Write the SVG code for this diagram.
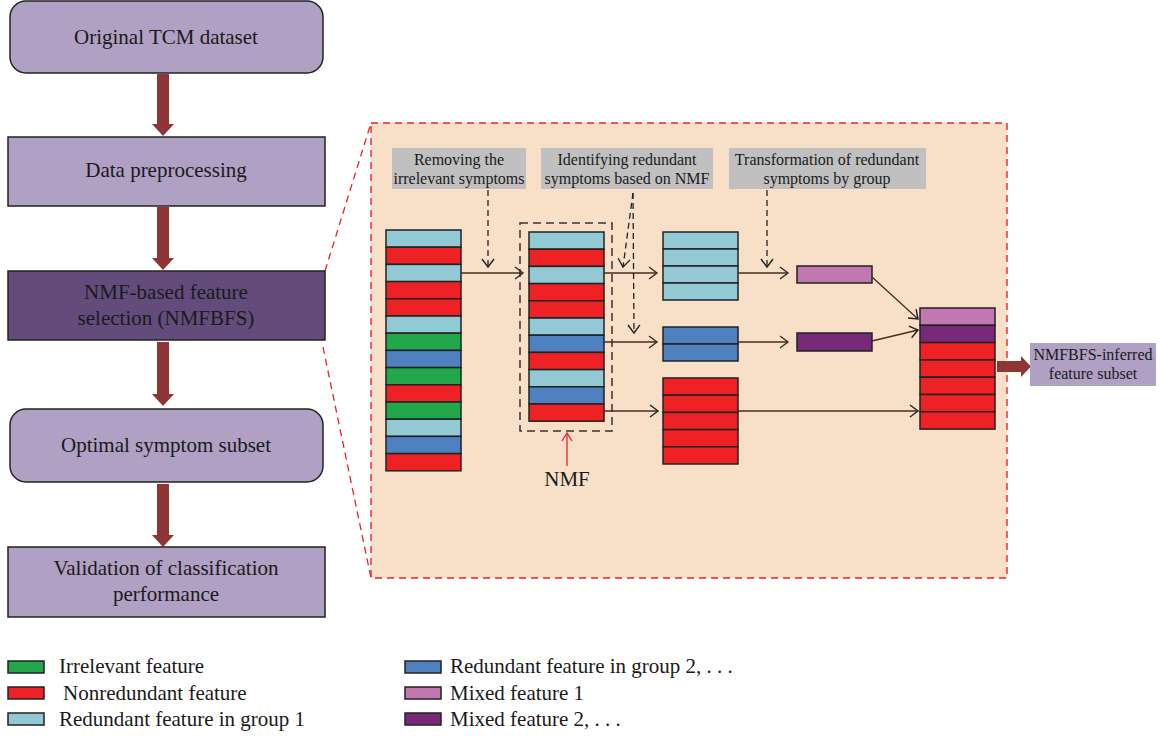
<svg xmlns="http://www.w3.org/2000/svg" width="1160" height="736" viewBox="0 0 1160 736">
<style>
.flow{fill:#afa0c4;stroke:#222;stroke-width:1.5}
.flowdark{fill:#634c7c;stroke:#222;stroke-width:1.5}
.ft{font-family:"Liberation Serif",serif;font-size:21px;fill:#1a1a1a;text-anchor:middle}
.lbl{fill:#c0c0c0}
.lt{font-family:"Liberation Serif",serif;font-size:16px;fill:#1a1a1a;text-anchor:middle}
.leg{font-family:"Liberation Serif",serif;font-size:21px;fill:#1a1a1a}
.c{stroke:#222;stroke-width:1.5}
.lb{fill:#92c9d5}.rd{fill:#ee2224}.gr{fill:#22a84a}.bl{fill:#4f81c0}.pk{fill:#c177b0}.pp{fill:#772a78}
.thin{fill:none;stroke:#4a2a22;stroke-width:1.3}
.dash{fill:none;stroke:#222;stroke-width:1.3;stroke-dasharray:6,4}
.big{fill:#903535}
</style>
<defs>
<marker id="chev" markerUnits="userSpaceOnUse" markerWidth="12" markerHeight="16" viewBox="-10 -8 12 16" refX="0" refY="0" orient="auto">
<path d="M-8,-6 L0,0 L-8,6" fill="none" stroke="#3a2a22" stroke-width="1.4"/>
</marker>
<marker id="chevk" markerUnits="userSpaceOnUse" markerWidth="12" markerHeight="16" viewBox="-10 -8 12 16" refX="0" refY="0" orient="auto">
<path d="M-8,-6 L0,0 L-8,6" fill="none" stroke="#222" stroke-width="1.4"/>
</marker>
</defs>
<rect width="1160" height="736" fill="#fff"/>

<!-- zoom region -->
<g id="zoom-region">
<rect x="371" y="123" width="636" height="455" fill="#f8dfc8" stroke="#e8232a" stroke-width="1.4" stroke-dasharray="7,5"/>
<line x1="325" y1="271" x2="371" y2="123" stroke="#e8232a" stroke-width="1.3" stroke-dasharray="7,5"/>
<line x1="323" y1="347" x2="371" y2="578" stroke="#e8232a" stroke-width="1.3" stroke-dasharray="7,5"/>
</g>

<!-- flow connectors -->
<g id="flow-connectors">
<path class="big" d="M157,74 H169 V124 H174 L163,136 L152,124 H157 Z"/>
<path class="big" d="M157,207 H169 V258 H174 L163,270 L152,258 H157 Z"/>
<path class="big" d="M157,342 H169 V394 H174 L163,406 L152,394 H157 Z"/>
<path class="big" d="M157,484 H169 V535 H174 L163,547 L152,535 H157 Z"/>
<path class="big" d="M997,361 H1021 V356 L1031,366.5 L1021,377 V372 H997 Z"/>
</g>

<g id="n-original">
<rect class="flow" x="10" y="1" width="313" height="72" rx="16"/>
<text class="ft" x="166" y="44">Original TCM dataset</text>
</g>
<g id="n-preprocess">
<rect class="flow" x="8" y="137" width="317" height="69"/>
<text class="ft" x="166" y="177">Data preprocessing</text>
</g>
<g id="n-nmfbfs">
<rect class="flowdark" x="8" y="271" width="317" height="69"/>
<text class="ft" x="166" y="299">NMF-based feature</text>
<text class="ft" x="166" y="325">selection (NMFBFS)</text>
</g>
<g id="n-optimal">
<rect class="flow" x="10" y="409" width="313" height="73" rx="16"/>
<text class="ft" x="166" y="452">Optimal symptom subset</text>
</g>
<g id="n-validation">
<rect class="flow" x="8" y="547" width="317" height="70"/>
<text class="ft" x="166" y="575">Validation of classification</text>
<text class="ft" x="166" y="601">performance</text>
</g>

<!-- step labels -->
<g id="l-removing">
<rect class="lbl" x="392" y="148" width="134" height="41"/>
<text class="lt" x="459" y="165">Removing the</text>
<text class="lt" x="459" y="184">irrelevant symptoms</text>
</g>
<g id="l-identifying">
<rect class="lbl" x="541" y="148" width="172" height="41"/>
<text class="lt" x="627" y="165">Identifying redundant</text>
<text class="lt" x="627" y="184">symptoms based on NMF</text>
</g>
<g id="l-transform">
<rect class="lbl" x="729" y="148" width="197" height="41"/>
<text class="lt" x="827" y="165">Transformation of redundant</text>
<text class="lt" x="827" y="184">symptoms by group</text>
</g>

<!-- stacks -->
<g id="s-original">
<rect class="lb c" x="386" y="230" width="75" height="17.2"/>
<rect class="rd c" x="386" y="247.2" width="75" height="17.2"/>
<rect class="lb c" x="386" y="264.4" width="75" height="17.2"/>
<rect class="rd c" x="386" y="281.6" width="75" height="17.2"/>
<rect class="rd c" x="386" y="298.8" width="75" height="17.2"/>
<rect class="lb c" x="386" y="316" width="75" height="17.2"/>
<rect class="gr c" x="386" y="333.2" width="75" height="17.2"/>
<rect class="bl c" x="386" y="350.4" width="75" height="17.2"/>
<rect class="gr c" x="386" y="367.6" width="75" height="17.2"/>
<rect class="rd c" x="386" y="384.8" width="75" height="17.2"/>
<rect class="gr c" x="386" y="402" width="75" height="17.2"/>
<rect class="lb c" x="386" y="419.2" width="75" height="17.2"/>
<rect class="bl c" x="386" y="436.4" width="75" height="17.2"/>
<rect class="rd c" x="386" y="453.6" width="75" height="17.2"/>
</g>
<g id="s-filtered">
<rect x="520" y="223" width="92" height="208" fill="none" stroke="#333" stroke-width="1.5" stroke-dasharray="8,5"/>
<rect class="lb c" x="529" y="232" width="75" height="17.2"/>
<rect class="rd c" x="529" y="249.2" width="75" height="17.2"/>
<rect class="lb c" x="529" y="266.4" width="75" height="17.2"/>
<rect class="rd c" x="529" y="283.6" width="75" height="17.2"/>
<rect class="rd c" x="529" y="300.8" width="75" height="17.2"/>
<rect class="lb c" x="529" y="318" width="75" height="17.2"/>
<rect class="bl c" x="529" y="335.2" width="75" height="17.2"/>
<rect class="rd c" x="529" y="352.4" width="75" height="17.2"/>
<rect class="lb c" x="529" y="369.6" width="75" height="17.2"/>
<rect class="bl c" x="529" y="386.8" width="75" height="17.2"/>
<rect class="rd c" x="529" y="404" width="75" height="17.2"/>
</g>
<g id="nmf-label">
<line x1="567" y1="466" x2="567" y2="434" stroke="#e8232a" stroke-width="1.3"/>
<path d="M562,441 L567,433 L572,441" fill="none" stroke="#e8232a" stroke-width="1.3"/>
<text x="567" y="486" font-family="Liberation Serif,serif" font-size="21" fill="#1a1a1a" text-anchor="middle">NMF</text>
</g>
<g id="s-group1">
<rect class="lb c" x="663" y="232" width="75" height="17"/>
<rect class="lb c" x="663" y="249" width="75" height="17"/>
<rect class="lb c" x="663" y="266" width="75" height="17"/>
<rect class="lb c" x="663" y="283" width="75" height="17"/>
</g>
<g id="s-group2">
<rect class="bl c" x="663" y="327" width="75" height="17"/>
<rect class="bl c" x="663" y="344" width="75" height="17"/>
</g>
<g id="s-nonredundant">
<rect class="rd c" x="663" y="378" width="75" height="17.2"/>
<rect class="rd c" x="663" y="395.2" width="75" height="17.2"/>
<rect class="rd c" x="663" y="412.4" width="75" height="17.2"/>
<rect class="rd c" x="663" y="429.6" width="75" height="17.2"/>
<rect class="rd c" x="663" y="446.8" width="75" height="17.2"/>
</g>
<g id="s-mixed1">
<rect class="pk c" x="797" y="266" width="75" height="17"/>
</g>
<g id="s-mixed2">
<rect class="pp c" x="797" y="333" width="75" height="18"/>
</g>
<g id="s-final">
<rect class="pk c" x="920" y="308" width="75" height="17.3"/>
<rect class="pp c" x="920" y="325.3" width="75" height="17.3"/>
<rect class="rd c" x="920" y="342.6" width="75" height="17.3"/>
<rect class="rd c" x="920" y="359.9" width="75" height="17.3"/>
<rect class="rd c" x="920" y="377.2" width="75" height="17.3"/>
<rect class="rd c" x="920" y="394.5" width="75" height="17.3"/>
<rect class="rd c" x="920" y="411.8" width="75" height="17.3"/>
</g>
<g id="n-output">
<rect x="1030" y="343" width="126" height="43" fill="#afa0c4"/>
<text class="lt" x="1093" y="360">NMFBFS-inferred</text>
<text class="lt" x="1093" y="379">feature subset</text>
</g>

<!-- connectors -->
<g id="connectors">
<line class="thin" x1="461" y1="273" x2="523" y2="273" marker-end="url(#chev)"/>
<line class="thin" x1="604" y1="273" x2="657" y2="273" marker-end="url(#chev)"/>
<line class="thin" x1="604" y1="342" x2="657" y2="342" marker-end="url(#chev)"/>
<line class="thin" x1="604" y1="411" x2="658" y2="411" marker-end="url(#chevk)"/>
<line class="thin" x1="738" y1="273" x2="788" y2="273" marker-end="url(#chev)"/>
<line class="thin" x1="738" y1="342" x2="788" y2="342" marker-end="url(#chev)"/>
<line class="thin" x1="738" y1="411" x2="918" y2="411" marker-end="url(#chevk)"/>
<line class="thin" stroke="#222" x1="872" y1="277" x2="918" y2="319" marker-end="url(#chevk)"/>
<line class="thin" stroke="#222" x1="872" y1="341" x2="918" y2="330" marker-end="url(#chevk)"/>
<line class="dash" x1="488" y1="190" x2="488" y2="267" marker-end="url(#chevk)"/>
<line class="dash" x1="633" y1="193" x2="623" y2="267" marker-end="url(#chevk)"/>
<line class="dash" x1="633" y1="193" x2="634" y2="333" marker-end="url(#chevk)"/>
<line class="dash" x1="767" y1="190" x2="767" y2="267" marker-end="url(#chevk)"/>
</g>

<!-- legend -->
<g id="legend">
<rect class="gr c" x="8" y="661" width="36" height="12"/>
<text class="leg" x="59" y="673">Irrelevant feature</text>
<rect class="rd c" x="8" y="687" width="36" height="12"/>
<text class="leg" x="63" y="700">Nonredundant feature</text>
<rect class="lb c" x="8" y="713" width="36" height="12"/>
<text class="leg" x="59" y="726">Redundant feature in group 1</text>
<rect class="bl c" x="405" y="661" width="36" height="12"/>
<text class="leg" x="450" y="673">Redundant feature in group 2, . . .</text>
<rect class="pk c" x="405" y="687" width="36" height="12"/>
<text class="leg" x="450" y="700">Mixed feature 1</text>
<rect class="pp c" x="405" y="713" width="36" height="12"/>
<text class="leg" x="450" y="726">Mixed feature 2, . . .</text>
</g>
</svg>
